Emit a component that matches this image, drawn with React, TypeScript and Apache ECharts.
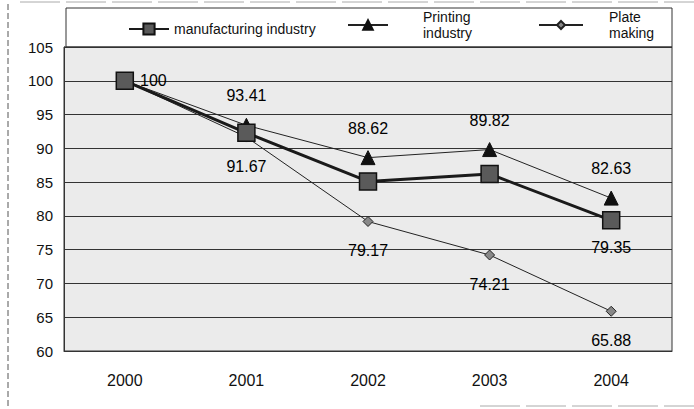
import React, { useEffect, useRef } from "react";
import * as echarts from "echarts";

const years = ["2000", "2001", "2002", "2003", "2004"];
const manufacturing = [100, 92.3, 85.1, 86.2, 79.35];
const printing = [100, 93.41, 88.62, 89.82, 82.63];
const plateMaking = [100, 91.67, 79.17, 74.21, 65.88];
const seriesNames = ["manufacturing industry", "Printing\nindustry", "Plate\nmaking"];

const FONT = "Liberation Sans, Arial, sans-serif";

export default function App() {
  const ref = useRef<HTMLDivElement>(null);
  useEffect(() => {
    if (!ref.current) return;
    const chart = echarts.init(ref.current, undefined, { renderer: "svg" });
    const labelBase = { show: true, fontSize: 16, color: "#000", fontFamily: FONT };
    const mfgData = manufacturing.map((v, i) => {
      if (i === 0) return { value: v, label: { ...labelBase, position: "right", distance: 6 } };
      if (i === manufacturing.length - 1) return { value: v, label: { ...labelBase, position: "bottom", distance: 10 } };
      return { value: v };
    });
    const prtData = printing.map((v, i) =>
      i === 0 ? { value: v } : { value: v, label: { ...labelBase, position: "top", distance: 14 } }
    );
    const plateData = plateMaking.map((v, i) =>
      i === 0 ? { value: v } : { value: v, label: { ...labelBase, position: "bottom", distance: 16 } }
    );
    const legendText = { fontSize: 14, color: "#111", fontFamily: FONT, lineHeight: 16 };
    chart.setOption({
      animation: false,
      backgroundColor: "#fff",
      textStyle: { fontFamily: FONT },
      grid: {
        left: 64,
        right: 22,
        top: 47,
        bottom: 58,
        show: true,
        backgroundColor: "#ebebeb",
        borderColor: "#333",
        borderWidth: 1,
      },
      legend: [
        {
          data: [seriesNames[0]],
          left: 123,
          top: 16,
          itemWidth: 40,
          itemHeight: 14,
          itemGap: 5,
          textStyle: legendText,
        },
        {
          data: [seriesNames[1]],
          left: 342,
          top: 4,
          itemWidth: 40,
          itemHeight: 12,
          itemGap: 5,
          textStyle: { ...legendText, padding: [0, 0, 0, 30] },
        },
        {
          data: [seriesNames[2]],
          left: 533,
          top: 4,
          itemWidth: 44,
          itemHeight: 10,
          itemGap: 5,
          textStyle: { ...legendText, padding: [0, 0, 0, 21] },
        },
      ],
      graphic: [
        {
          type: "rect",
          shape: { x: 66, y: 8, width: 606, height: 39 },
          style: { fill: "none", stroke: "#333", lineWidth: 1 },
          z: 0,
        },
        {
          type: "line",
          shape: { x1: 8, y1: 4, x2: 8, y2: 409 },
          style: { stroke: "#555", lineWidth: 1, lineDash: [6, 3] },
        },
        {
          type: "line",
          shape: { x1: 20, y1: 2, x2: 694, y2: 2 },
          style: { stroke: "#aaa", lineWidth: 1, lineDash: [40, 6] },
        },
        {
          type: "line",
          shape: { x1: 480, y1: 406, x2: 694, y2: 406 },
          style: { stroke: "#aaa", lineWidth: 1, lineDash: [40, 6] },
        },
      ],
      xAxis: {
        type: "category",
        data: years,
        boundaryGap: true,
        axisLine: { show: true, lineStyle: { color: "#333" } },
        axisTick: { show: false },
        axisLabel: { fontSize: 16, color: "#111", margin: 21, fontFamily: FONT },
      },
      yAxis: {
        type: "value",
        min: 60,
        max: 105,
        interval: 5,
        axisLine: { show: true, lineStyle: { color: "#333" } },
        axisTick: { show: false },
        axisLabel: { fontSize: 15, color: "#111", margin: 11, fontFamily: FONT },
        splitLine: { show: true, lineStyle: { color: "#333", width: 1 } },
      },
      series: [
        {
          name: seriesNames[2],
          type: "line",
          data: plateData,
          symbol: "diamond",
          symbolSize: 10,
          itemStyle: { color: "#888", borderColor: "#222", borderWidth: 1 },
          lineStyle: { color: "#222", width: 1 },
          z: 2,
        },
        {
          name: seriesNames[1],
          type: "line",
          data: prtData,
          symbol: "triangle",
          symbolSize: 14,
          itemStyle: { color: "#111", borderColor: "#111", borderWidth: 1 },
          lineStyle: { color: "#222", width: 1 },
          z: 3,
        },
        {
          name: seriesNames[0],
          type: "line",
          data: mfgData,
          symbol: "rect",
          symbolSize: 17,
          itemStyle: { color: "#5a5a5a", borderColor: "#111", borderWidth: 1.5 },
          lineStyle: { color: "#1a1a1a", width: 3 },
          z: 4,
        },
      ],
    });
    return () => chart.dispose();
  }, []);
  return <div ref={ref} style={{ width: 694, height: 409, position: "absolute", left: 0, top: 0 }} />;
}
